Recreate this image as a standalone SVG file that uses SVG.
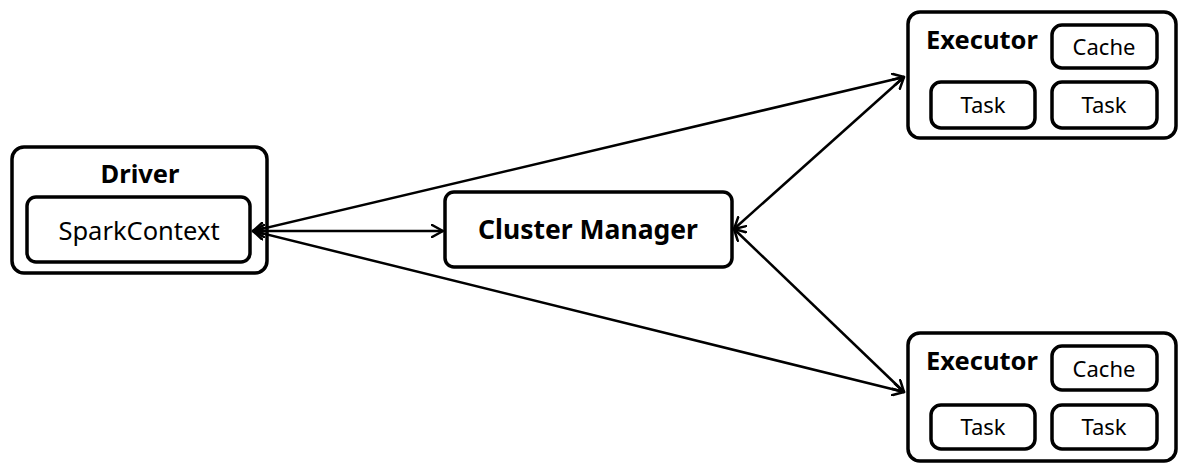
<svg xmlns="http://www.w3.org/2000/svg" width="1187" height="474" viewBox="0 0 1187 474">
<defs>
<marker id="arr" viewBox="0 0 14 14" refX="12" refY="7" markerWidth="14" markerHeight="14" markerUnits="userSpaceOnUse" orient="auto-start-reverse">
<path d="M1,1 L12,7 L1,13" fill="none" stroke="#000" stroke-width="2.5" stroke-linecap="round" stroke-linejoin="round"/>
</marker>
<style>
.box{fill:#fff;stroke:#000;stroke-width:3.5}
.t{font-family:"Noto Sans","Open Sans","DejaVu Sans",sans-serif;fill:#000}
.b{font-weight:bold;font-size:25.5px}
.n{font-size:22px}
.c{stroke:#000;stroke-width:2.5;fill:none;marker-start:url(#arr);marker-end:url(#arr)}
</style>
</defs>
<rect width="1187" height="474" fill="#fff"/>
<g id="driver">
<rect class="box" x="12" y="147" width="255" height="126" rx="12"/>
<text class="t b" x="140" y="183" text-anchor="middle">Driver</text>
</g>
<g id="sparkcontext">
<rect class="box" x="27" y="197" width="223" height="65" rx="9"/>
<text class="t" x="139" y="240" text-anchor="middle" font-size="25.5">SparkContext</text>
</g>
<g id="cluster-manager">
<rect class="box" x="445" y="192" width="287" height="75" rx="9"/>
<text class="t b" x="588" y="239" text-anchor="middle" font-size="26.5" style="font-size:26.5px">Cluster Manager</text>
</g>
<g id="executor1">
<rect class="box" x="908" y="12" width="268" height="126" rx="12"/>
<text class="t b" x="982" y="49" text-anchor="middle">Executor</text>
<rect class="box" x="1052" y="25" width="105" height="43" rx="10"/>
<text class="t n" x="1104" y="55" text-anchor="middle">Cache</text>
<rect class="box" x="931" y="82" width="104" height="46" rx="10"/>
<text class="t n" x="983" y="113" text-anchor="middle">Task</text>
<rect class="box" x="1052" y="82" width="105" height="46" rx="10"/>
<text class="t n" x="1104" y="113" text-anchor="middle">Task</text>
</g>
<g id="executor2">
<rect class="box" x="908" y="333" width="268" height="128" rx="12"/>
<text class="t b" x="982" y="370" text-anchor="middle">Executor</text>
<rect class="box" x="1052" y="346" width="105" height="44" rx="10"/>
<text class="t n" x="1104" y="377" text-anchor="middle">Cache</text>
<rect class="box" x="931" y="405" width="104" height="44" rx="10"/>
<text class="t n" x="983" y="435" text-anchor="middle">Task</text>
<rect class="box" x="1052" y="405" width="105" height="44" rx="10"/>
<text class="t n" x="1104" y="435" text-anchor="middle">Task</text>
</g>
<g id="connectors">
<line class="c" x1="253" y1="231" x2="443" y2="231"/>
<line class="c" x1="253" y1="231" x2="904" y2="77"/>
<line class="c" x1="253" y1="231" x2="904" y2="392"/>
<line class="c" x1="734" y1="229" x2="904" y2="77"/>
<line class="c" x1="734" y1="229" x2="904" y2="392"/>
</g>
</svg>
